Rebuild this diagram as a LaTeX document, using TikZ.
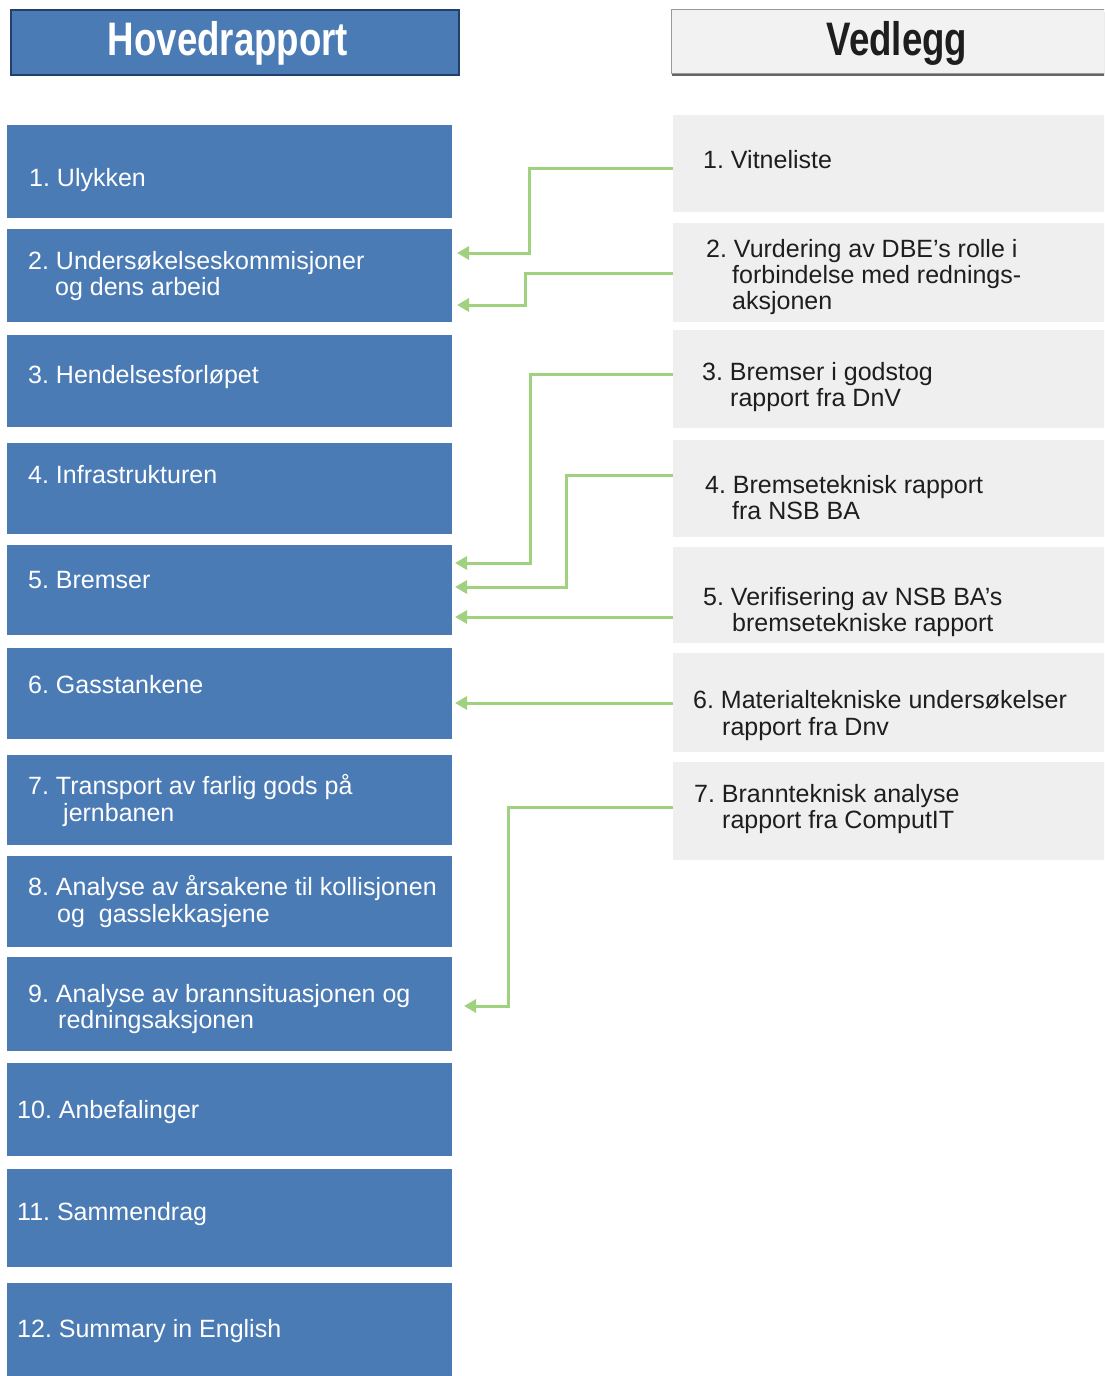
\documentclass[tikz,border=0pt]{standalone}
\usepackage{fontspec}
\setmainfont{Liberation Sans}
\frenchspacing
\usetikzlibrary{arrows.meta,shadows}
\definecolor{bblue}{HTML}{4B7BB5}
\definecolor{bnavy}{HTML}{22406E}
\definecolor{lgray}{HTML}{EFEFEF}
\definecolor{hgray}{HTML}{F2F2F2}
\definecolor{cgreen}{HTML}{9FD17F}
\definecolor{rtext}{HTML}{1E1E1E}
\tikzset{
  lbox/.style={rectangle, fill=bblue, draw=none, anchor=north west, minimum width=445pt, inner sep=0pt, outer sep=0pt},
  rbox/.style={rectangle, fill=lgray, draw=none, anchor=north west, minimum width=440pt, inner sep=0pt, outer sep=0pt},
  ltext/.style={anchor=base west, inner sep=0pt, text=white, font=\fontsize{25}{29}\selectfont\frenchspacing},
  rtxt/.style={anchor=base west, inner sep=0pt, text=rtext, font=\fontsize{25}{29}\selectfont\frenchspacing},
  conn/.style={draw=cgreen, line width=3pt, -{Triangle[length=12pt,width=13pt]}},
  headtext/.style={font=\fontsize{47}{50}\selectfont\bfseries}
}
\begin{document}
\begin{tikzpicture}[x=1pt,y=-1pt]
\clip (0,0) rectangle (1104,1376);
\useasboundingbox (0,0) rectangle (1104,1376);
% headers
\node[rectangle, fill=bblue, draw=bnavy, line width=2pt, anchor=north west, minimum width=448pt, minimum height=65pt, inner sep=0pt] (H1) at (10,9) {};
\node[headtext, text=white] (H1t) at (228,43) {\scalebox{0.78}[1]{Hovedrapport}};
\node[rectangle, fill=hgray, draw=gray!80, line width=1.2pt, anchor=north west, minimum width=450pt, minimum height=64pt, inner sep=0pt, drop shadow={shadow xshift=0pt, shadow yshift=-2.5pt, opacity=0.8, fill=black!75}] (H2) at (671,9) {};
\node[headtext, text=rtext] (H2t) at (897,43) {\scalebox{0.78}[1]{Vedlegg}};
% left boxes
\node[lbox, minimum height=93pt] (L1) at (7,125) {};
\node[lbox, minimum height=93pt] (L2) at (7,229) {};
\node[lbox, minimum height=92pt] (L3) at (7,335) {};
\node[lbox, minimum height=91pt] (L4) at (7,443) {};
\node[lbox, minimum height=90pt] (L5) at (7,545) {};
\node[lbox, minimum height=91pt] (L6) at (7,648) {};
\node[lbox, minimum height=90pt] (L7) at (7,755) {};
\node[lbox, minimum height=91pt] (L8) at (7,856) {};
\node[lbox, minimum height=94pt] (L9) at (7,957) {};
\node[lbox, minimum height=93pt] (L10) at (7,1063) {};
\node[lbox, minimum height=98pt] (L11) at (7,1169) {};
\node[lbox, minimum height=100pt] (L12) at (7,1283) {};
% left texts
\node[ltext] (T1) at (29,186) {1. Ulykken};
\node[ltext] (T2a) at (28,269) {2. Undersøkelseskommisjoner};
\node[ltext] (T2b) at (55,295) {og dens arbeid};
\node[ltext] (T3) at (28,383) {3. Hendelsesforløpet};
\node[ltext] (T4) at (28,483) {4. Infrastrukturen};
\node[ltext] (T5) at (28,588) {5. Bremser};
\node[ltext] (T6) at (28,693) {6. Gasstankene};
\node[ltext] (T7a) at (28,794) {7. Transport av farlig gods på};
\node[ltext] (T7b) at (63,821) {jernbanen};
\node[ltext] (T8a) at (28,895) {8. Analyse av årsakene til kollisjonen};
\node[ltext] (T8b) at (57,922) {og\ \ gasslekkasjene};
\node[ltext] (T9a) at (28,1002) {9. Analyse av brannsituasjonen og};
\node[ltext] (T9b) at (58,1028) {redningsaksjonen};
\node[ltext] (T10) at (17,1118) {10. Anbefalinger};
\node[ltext] (T11) at (17,1220) {11. Sammendrag};
\node[ltext] (T12) at (17,1337) {12. Summary in English};
% right boxes
\node[rbox, minimum height=97pt] (R1) at (673,115) {};
\node[rbox, minimum height=99pt] (R2) at (673,223) {};
\node[rbox, minimum height=98pt] (R3) at (673,330) {};
\node[rbox, minimum height=97pt] (R4) at (673,440) {};
\node[rbox, minimum height=96pt] (R5) at (673,547) {};
\node[rbox, minimum height=99pt] (R6) at (673,653) {};
\node[rbox, minimum height=98pt] (R7) at (673,762) {};
% right texts
\node[rtxt] (S1) at (703,168) {1. Vitneliste};
\node[rtxt] (S2a) at (706,257) {2. Vurdering av DBE's rolle i};
\node[rtxt] (S2b) at (732,283) {forbindelse med rednings-};
\node[rtxt] (S2c) at (732,309) {aksjonen};
\node[rtxt] (S3a) at (702,380) {3. Bremser i godstog};
\node[rtxt] (S3b) at (730,406) {rapport fra DnV};
\node[rtxt] (S4a) at (705,493) {4. Bremseteknisk rapport};
\node[rtxt] (S4b) at (732,519) {fra NSB BA};
\node[rtxt] (S5a) at (703,605) {5. Verifisering av NSB BA's};
\node[rtxt] (S5b) at (732,631) {bremsetekniske rapport};
\node[rtxt] (S6a) at (693,708) {6. Materialtekniske undersøkelser};
\node[rtxt] (S6b) at (722,735) {rapport fra Dnv};
\node[rtxt] (S7a) at (694,802) {7. Brannteknisk analyse};
\node[rtxt] (S7b) at (722,828) {rapport fra ComputIT};
% connector coordinates
\coordinate (s1) at (0,168);  \coordinate (k1) at (529,253);
\coordinate (s2) at (0,273);  \coordinate (k2) at (525,305);
\coordinate (s3) at (0,374);  \coordinate (k3) at (530,563);
\coordinate (s4) at (0,475);  \coordinate (k4) at (566,587);
\coordinate (s5) at (0,617);
\coordinate (s6) at (0,703);
\coordinate (s7) at (0,807);  \coordinate (k7) at (508,1006);
% connectors
\draw[conn, shorten >=5pt] (R1.west |- s1) -| (k1) -- (L2.east |- k1);
\draw[conn, shorten >=5pt] (R2.west |- s2) -| (k2) -- (L2.east |- k2);
\draw[conn, shorten >=3pt] (R3.west |- s3) -| (k3) -- (L5.east |- k3);
\draw[conn, shorten >=3pt] (R4.west |- s4) -| (k4) -- (L5.east |- k4);
\draw[conn, shorten >=3pt] (R5.west |- s5) -- (L5.east |- s5);
\draw[conn, shorten >=3pt] (R6.west |- s6) -- (L6.east |- s6);
\draw[conn, shorten >=12pt] (R7.west |- s7) -| (k7) -- (L9.east |- k7);
\end{tikzpicture}
\end{document}
